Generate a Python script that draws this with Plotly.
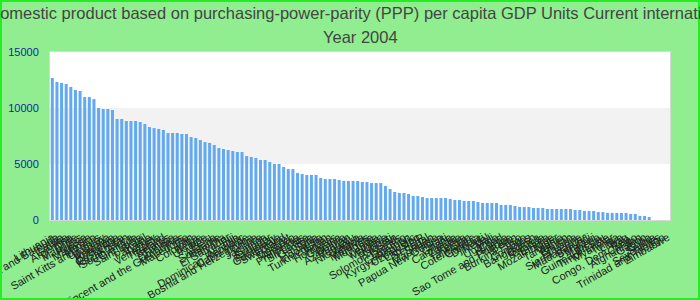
import plotly.graph_objects as go

title_line1 = "Gross domestic product based on purchasing-power-parity (PPP) per capita GDP Units Current international dollar"
title_line2 = "Year 2004"

countries = [
    "Lithuania", "Antigua and Barbuda", "Latvia", "Croatia", "Argentina", "Chile", "Mauritius", "Russia",
    "Malaysia", "Mexico", "Saint Kitts and Nevis", "Uruguay", "Bulgaria", "Romania", "Botswana", "Costa Rica",
    "Kazakhstan", "South Africa", "Grenada", "Saint Lucia", "Brazil", "Panama", "Turkey", "Venezuela",
    "Thailand", "Belarus", "Tunisia", "Dominica", "Saint Vincent and the Grenadines", "Macedonia", "Iran",
    "Colombia", "Belize", "Ukraine", "Peru", "Algeria", "Suriname", "Namibia", "El Salvador", "Fiji",
    "Albania", "Dominican Republic", "Cape Verde", "Bosnia and Herzegovina", "China", "Jamaica", "Samoa",
    "Ecuador", "Paraguay", "Guatemala", "Swaziland", "Egypt", "Morocco", "Armenia", "Philippines",
    "Sri Lanka", "Georgia", "Syria", "Indonesia", "Turkmenistan", "Jordan", "Honduras", "Guyana",
    "Bolivia", "Azerbaijan", "Vanuatu", "Nicaragua", "Angola", "Maldives", "Mongolia", "India", "Vietnam",
    "Moldova", "Kiribati", "Pakistan", "Solomon Islands", "Lesotho", "Cameroon", "Kyrgyz Republic",
    "Uzbekistan", "Lao PDR", "Senegal", "Sudan", "Mauritania", "Papua New Guinea", "Haiti", "Ghana",
    "Cambodia", "Zambia", "Kenya", "Tajikistan", "Cote d'Ivoire", "Gambia", "Djibouti", "Nepal", "Mali",
    "Uganda", "Chad", "Nigeria", "Sao Tome and Principe", "Benin", "Burkina Faso", "Togo", "Comoros",
    "Bangladesh", "Guinea", "Rwanda", "Eritrea", "Mozambique", "Niger", "Tanzania", "Yemen", "Bhutan",
    "Ethiopia", "Sierra Leone", "Madagascar", "Burundi", "Malawi", "Liberia", "Guinea-Bissau", "Timor-Leste",
    "Myanmar", "Tonga", "Libya", "Iraq", "Congo, Dem. Rep.", "Congo", "Afghanistan", "Gabon", "Cuba",
    "Serbia", "Seychelles", "Trinidad and Tobago", "Zimbabwe",
]

gdp_ppp = [
    12680, 12320, 12230, 12140, 11880, 11610, 11520, 10980, 10980, 10800,
    10000, 9910, 9910, 9820, 9020, 9020, 8840, 8840, 8840, 8750,
    8570, 8300, 8210, 8130, 8040, 7770, 7770, 7770, 7680, 7680,
    7410, 7320, 7140, 6960, 6880, 6700, 6430, 6340, 6250, 6160,
    6070, 6070, 5710, 5630, 5540, 5360, 5360, 5180, 5000, 5000,
    4730, 4550, 4550, 4200, 4110, 4020, 4020, 4020, 3750, 3660,
    3660, 3660, 3570, 3480, 3480, 3480, 3480, 3390, 3390, 3300,
    3300, 3300, 3040, 2770, 2500, 2410, 2410, 2320, 2140, 2140,
    2050, 1960, 1960, 1960, 1960, 1960, 1880, 1790, 1790, 1700,
    1700, 1700, 1610, 1520, 1520, 1520, 1520, 1340, 1340, 1340,
    1250, 1160, 1160, 1160, 1070, 1070, 1070, 980, 980, 980,
    980, 980, 980, 890, 890, 800, 800, 800, 710, 710,
    630, 630, 630, 630, 630, 540, 540, 360, 360, 270,
    None, None, None, None,
]

y_ticks = [0, 5000, 10000, 15000]

fig = go.Figure()
fig.add_trace(go.Bar(x=countries, y=gdp_ppp, marker=dict(color="#62a9f3", line=dict(width=0)),
                     hoverinfo="x+y"))

# alternating bands
fig.add_shape(type="rect", xref="paper", yref="y", x0=0, x1=1, y0=5000, y1=10000,
              fillcolor="#f2f2f2", line=dict(width=0), layer="below")

# outer page border
ml, mr, mt, mb = 50, 30, 52, 80
pw, ph = 700 - ml - mr, 300 - mt - mb
fig.add_shape(type="rect", xref="paper", yref="paper",
              x0=-(ml - 1) / pw, x1=1 + (mr - 1) / pw, y0=-(mb - 1) / ph, y1=1 + (mt - 1) / ph,
              line=dict(color="#22ee22", width=2), fillcolor="rgba(0,0,0,0)", layer="above")

# second title line
fig.add_annotation(text=title_line2, xref="paper", yref="paper", x=0.5, xanchor="center",
                   y=1 + (mt - 37) / ph, yanchor="middle", showarrow=False,
                   font=dict(size=16.5, color="#444444"))

fig.update_layout(
    width=700, height=300,
    margin=dict(l=ml, r=mr, t=mt, b=mb, autoexpand=False),
    paper_bgcolor="#90ee90",
    plot_bgcolor="#ffffff",
    font=dict(family="Liberation Sans, Arial, sans-serif", size=11, color="#222222"),
    title=dict(text=title_line1, x=0.5, xanchor="center",
               y=1 - 13 / 300, yanchor="middle", xref="paper", yref="container",
               font=dict(size=16.5, color="#444444")),
    bargap=0.35,
    showlegend=False,
    xaxis=dict(type="category", tickmode="linear", dtick=1, tickangle=-30, automargin=False,
               tickfont=dict(size=11, color="#222222"), showgrid=False, ticks="",
               showline=True, linecolor="#d8d8d8", linewidth=1, mirror=True,
               ticklabelstandoff=6,
               range=[-0.5, len(countries) - 0.5]),
    yaxis=dict(range=[0, 15000], tickvals=y_ticks, ticktext=[str(v) for v in y_ticks], automargin=False,
               tickfont=dict(size=11, color="#1a1aa6"), showgrid=False, zeroline=False,
               showline=True, linecolor="#d8d8d8", linewidth=1, mirror=True,
               ticklabelstandoff=8),
)

fig.write_html("out.html")
